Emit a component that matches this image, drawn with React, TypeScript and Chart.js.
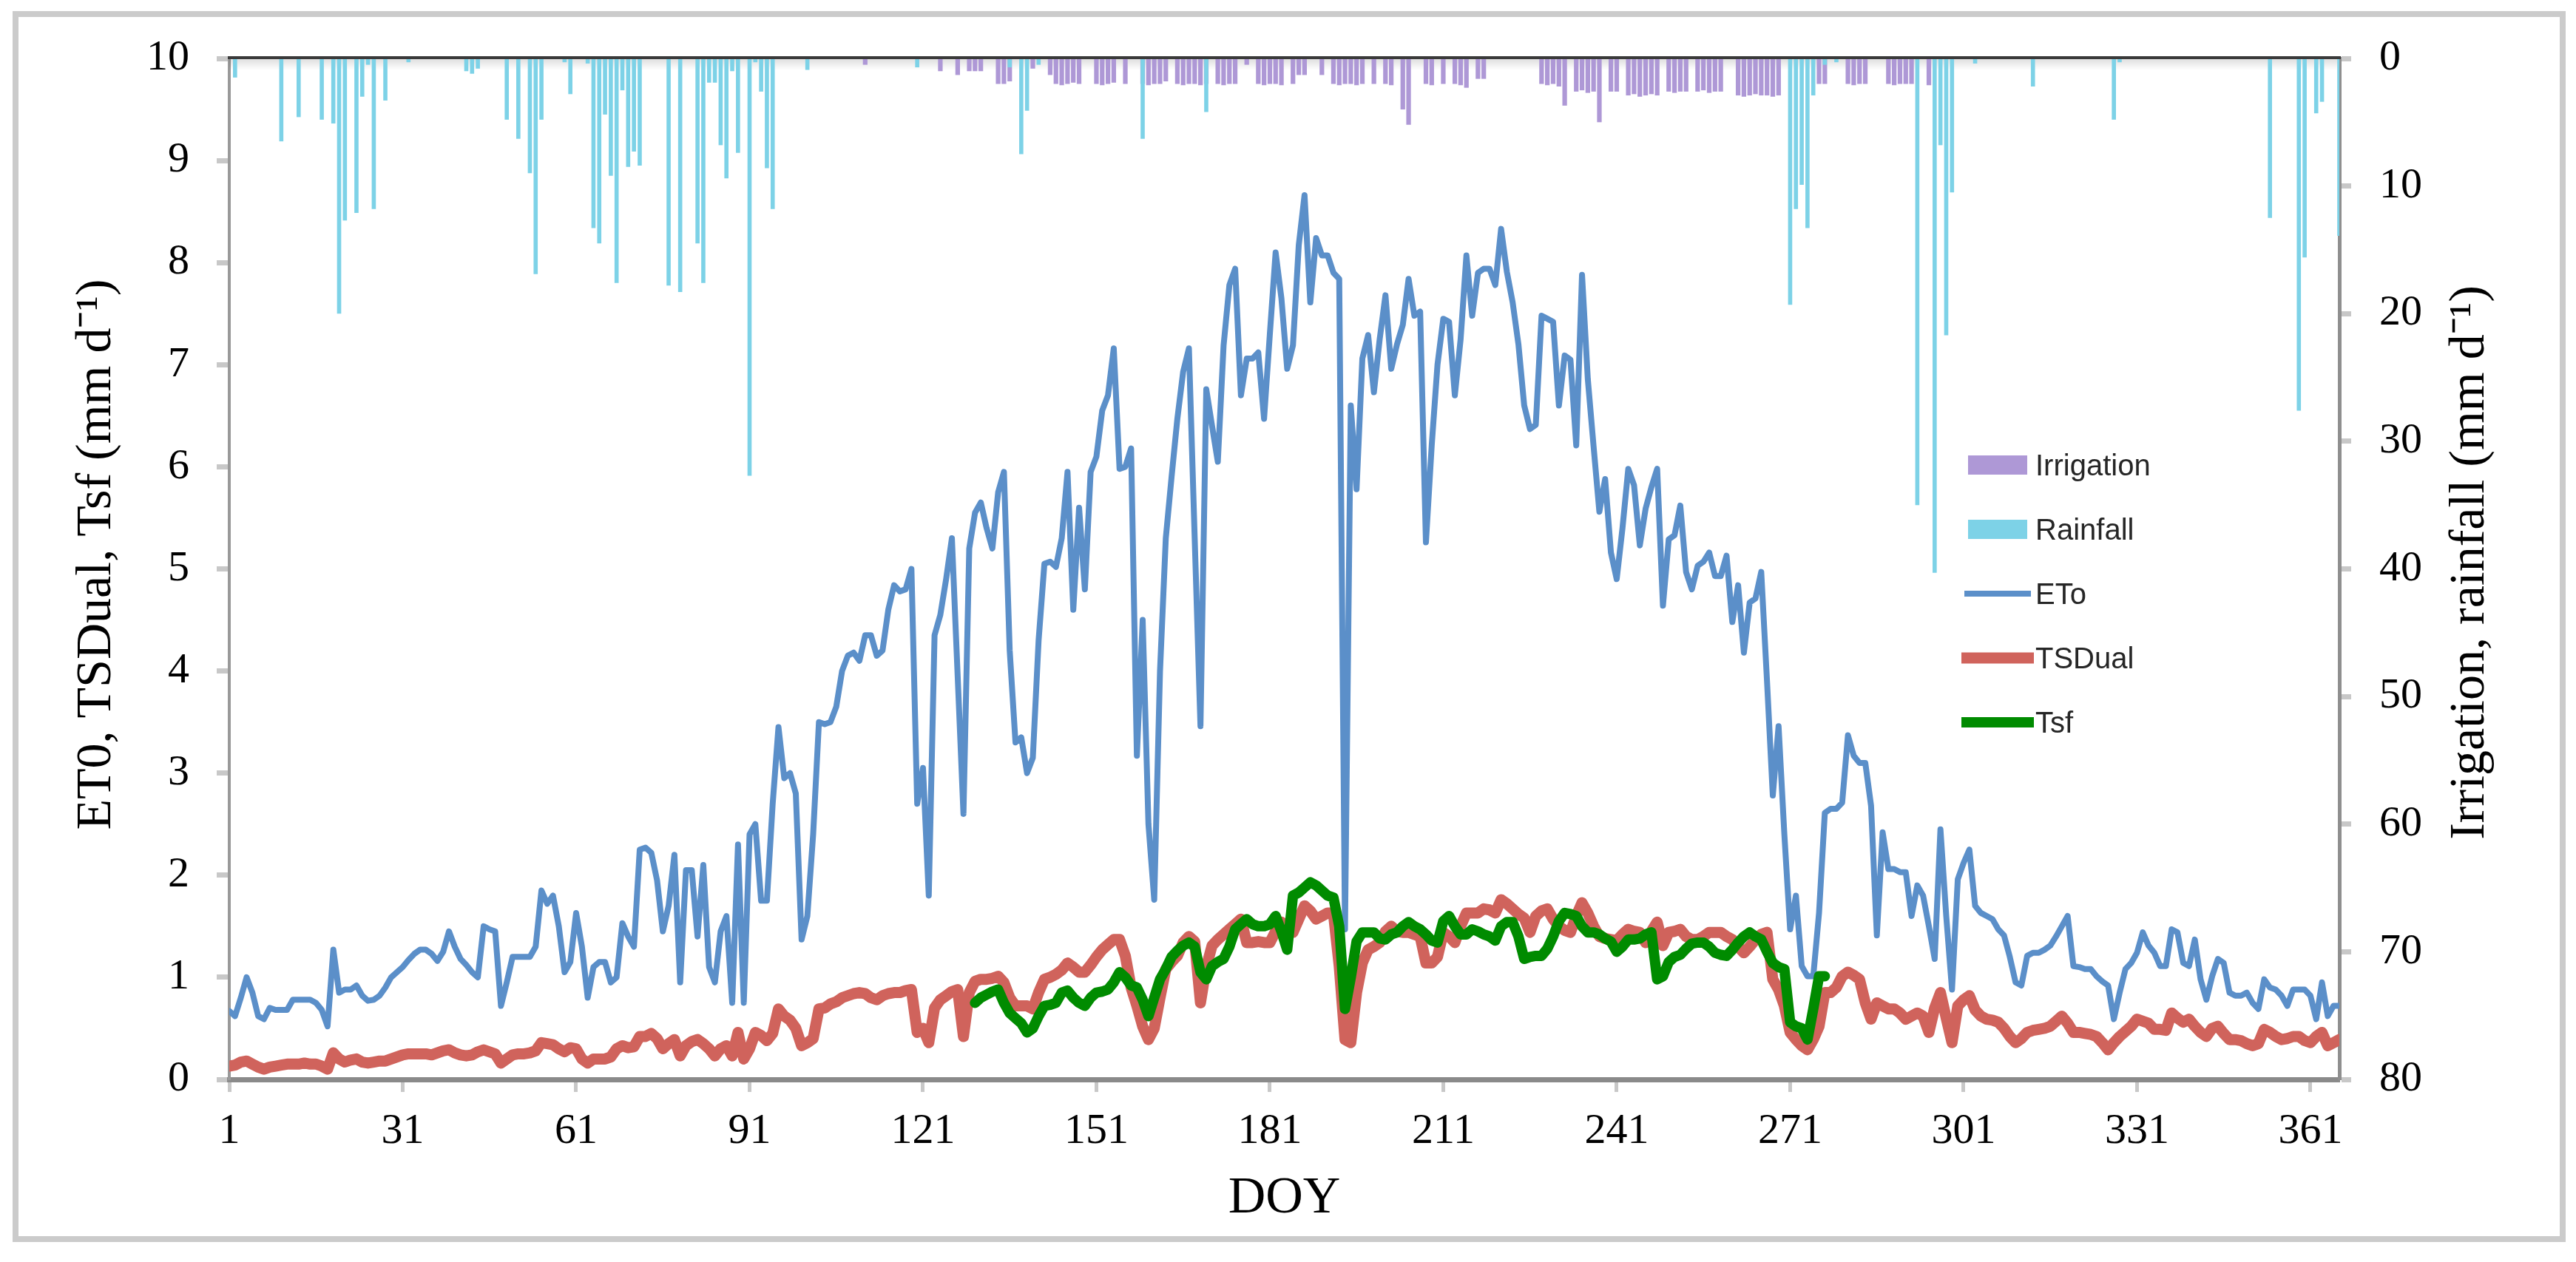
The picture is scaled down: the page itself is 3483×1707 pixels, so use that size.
import React, { useEffect, useRef } from "react";
import { Chart, registerables } from "chart.js";

Chart.register(...registerables);

// ---------------- DATA ----------------
const DOY_TICKS = [1, 31, 61, 91, 121, 151, 181, 211, 241, 271, 301, 331, 361];

// Reference evapotranspiration, DOY 1..366 (mm d-1)
const ETO = [
  0.67, 0.62, 0.8, 1.0, 0.85, 0.62, 0.59, 0.7, 0.68, 0.68,
  0.68, 0.78, 0.78, 0.78, 0.78, 0.75, 0.68, 0.52, 1.27, 0.85,
  0.88, 0.88, 0.92, 0.82, 0.77, 0.78, 0.82, 0.9, 1.0, 1.05,
  1.1, 1.17, 1.23, 1.27, 1.27, 1.23, 1.16, 1.25, 1.45, 1.3,
  1.18, 1.12, 1.05, 1.0, 1.5, 1.47, 1.45, 0.72, 0.95, 1.2,
  1.2, 1.2, 1.2, 1.3, 1.85, 1.72, 1.8, 1.5, 1.05, 1.15,
  1.63, 1.3, 0.8, 1.1, 1.15, 1.15, 0.95, 1.0, 1.53, 1.4,
  1.3, 2.25, 2.27, 2.22, 1.95, 1.45, 1.7, 2.2, 0.95, 2.05,
  2.05, 1.4, 2.1, 1.1, 0.95, 1.45, 1.6, 0.75, 2.3, 0.75,
  2.4, 2.5, 1.75, 1.75, 2.7, 3.45, 2.95, 3.0, 2.8, 1.37,
  1.6, 2.4, 3.5, 3.48, 3.5, 3.65, 4.0, 4.15, 4.18, 4.1,
  4.35, 4.35, 4.15, 4.2, 4.6, 4.84, 4.78, 4.8, 5.0, 2.7,
  3.05, 1.8, 4.35, 4.55, 4.9, 5.3, 3.95, 2.6, 5.2, 5.55,
  5.65, 5.4, 5.2, 5.75, 5.95, 4.2, 3.3, 3.35, 3.0, 3.15,
  4.3, 5.05, 5.07, 5.02, 5.3, 5.95, 4.6, 5.6, 4.8, 5.95,
  6.1, 6.55, 6.7, 7.16, 5.98, 6.0, 6.18, 3.17, 4.5, 2.5,
  1.76, 4.0, 5.3, 5.9, 6.47, 6.93, 7.16, 5.3, 3.46, 6.76,
  6.4, 6.05, 7.19, 7.78, 7.94, 6.7, 7.06, 7.06, 7.12, 6.47,
  7.3, 8.1, 7.65, 6.96, 7.19, 8.17, 8.66, 7.61, 8.24, 8.07,
  8.07, 7.9, 7.84, 1.47, 6.6, 5.78, 7.06, 7.29, 6.73, 7.25,
  7.68, 6.96, 7.2, 7.39, 7.84, 7.48, 7.52, 5.26, 6.21, 7.0,
  7.45, 7.42, 6.7, 7.25, 8.07, 7.48, 7.9, 7.94, 7.94, 7.78,
  8.33, 7.91, 7.61, 7.2, 6.6, 6.37, 6.41, 7.48, 7.45, 7.42,
  6.6, 7.09, 7.05, 6.21, 7.88, 6.86, 6.2, 5.56, 5.88, 5.16,
  4.9, 5.4, 5.98, 5.82, 5.23, 5.59, 5.8, 5.98, 4.64, 5.29,
  5.33, 5.62, 4.97, 4.8, 5.03, 5.07, 5.16, 4.93, 4.93, 5.13,
  4.48, 4.84, 4.18, 4.67, 4.71, 4.97, 3.9, 2.78, 3.46, 2.4,
  1.47, 1.8, 1.11, 1.01, 1.01, 1.63, 2.61, 2.65, 2.65, 2.71,
  3.37, 3.17, 3.1, 3.1, 2.68, 1.41, 2.42, 2.06, 2.06, 2.03,
  2.03, 1.6, 1.9, 1.8, 1.5, 1.18, 2.45, 1.6, 0.88, 1.96,
  2.12, 2.25, 1.7, 1.63, 1.6, 1.57, 1.47, 1.41, 1.2, 0.95,
  0.92, 1.21, 1.24, 1.24, 1.27, 1.31, 1.4, 1.5, 1.6, 1.11,
  1.1, 1.08, 1.08, 1.01, 0.96, 0.92, 0.59, 0.85, 1.08, 1.14,
  1.24, 1.44, 1.31, 1.24, 1.11, 1.11, 1.47, 1.44, 1.14, 1.11,
  1.37, 0.98, 0.78, 1.01, 1.18, 1.14, 0.85, 0.82, 0.82, 0.85,
  0.75, 0.69, 0.98, 0.9, 0.88, 0.82, 0.72, 0.88, 0.88, 0.88,
  0.82, 0.59, 0.95, 0.62, 0.72, 0.72,
];

// TSDual, DOY 1..366 (mm d-1)
const TSDUAL = [
  0.13, 0.14, 0.17, 0.18, 0.15, 0.12, 0.1, 0.12, 0.13, 0.14,
  0.15, 0.15, 0.15, 0.16, 0.15, 0.15, 0.13, 0.1, 0.26, 0.2,
  0.17, 0.19, 0.2, 0.17, 0.16, 0.17, 0.18, 0.18, 0.2, 0.22,
  0.24, 0.25, 0.25, 0.25, 0.25, 0.24, 0.26, 0.28, 0.29, 0.26,
  0.24, 0.23, 0.24, 0.27, 0.29, 0.27, 0.25, 0.16, 0.2, 0.24,
  0.25, 0.25, 0.26, 0.28, 0.36, 0.35, 0.34, 0.3, 0.27, 0.31,
  0.3, 0.2, 0.16, 0.2, 0.2, 0.2, 0.22, 0.3, 0.33, 0.31,
  0.32, 0.42, 0.42, 0.45, 0.4, 0.3, 0.35, 0.39, 0.23, 0.33,
  0.37, 0.39, 0.35, 0.3, 0.23, 0.3, 0.33, 0.23, 0.46, 0.2,
  0.3, 0.46, 0.43, 0.38, 0.45, 0.69, 0.62, 0.58, 0.5, 0.33,
  0.36, 0.4, 0.69, 0.7, 0.74, 0.76, 0.8, 0.82, 0.84, 0.85,
  0.84, 0.8, 0.78, 0.82, 0.84, 0.85, 0.85, 0.87, 0.88, 0.46,
  0.5, 0.36, 0.7, 0.78, 0.82, 0.86, 0.88, 0.42, 0.85, 0.96,
  0.98, 0.98, 0.99, 1.01, 0.95, 0.8, 0.72, 0.72, 0.72, 0.69,
  0.85, 0.98, 1.0, 1.03, 1.07, 1.14, 1.1, 1.05, 1.05, 1.12,
  1.2, 1.27, 1.32, 1.37, 1.37, 1.21, 0.9, 0.72, 0.52, 0.39,
  0.5, 0.8, 1.08, 1.15, 1.21, 1.34, 1.4, 1.35, 0.75, 1.1,
  1.31, 1.37, 1.42, 1.47, 1.52, 1.57, 1.34, 1.34, 1.35, 1.34,
  1.34, 1.45, 1.54, 1.48, 1.44, 1.57, 1.7, 1.65, 1.57, 1.6,
  1.63, 1.63, 1.11, 0.39, 0.36, 0.85, 1.14, 1.27, 1.3, 1.34,
  1.45, 1.5, 1.45, 1.44, 1.44, 1.42, 1.4, 1.14, 1.14, 1.2,
  1.44, 1.4, 1.34, 1.5, 1.63, 1.63, 1.63, 1.67, 1.66, 1.63,
  1.76, 1.72, 1.67, 1.62, 1.58, 1.44, 1.6, 1.65, 1.67, 1.57,
  1.5, 1.46, 1.44, 1.6, 1.73, 1.63, 1.5, 1.4, 1.38, 1.37,
  1.36, 1.42, 1.47, 1.45, 1.44, 1.34, 1.45, 1.54, 1.31, 1.44,
  1.45, 1.47, 1.4, 1.37, 1.37, 1.4, 1.44, 1.44, 1.44, 1.4,
  1.37, 1.3, 1.24, 1.3, 1.37, 1.42, 1.44, 0.98, 0.88, 0.72,
  0.46, 0.39, 0.33, 0.29, 0.39, 0.52, 0.85, 0.85, 0.9, 1.01,
  1.05, 1.02, 0.98, 0.75, 0.59, 0.75, 0.72, 0.69, 0.69, 0.65,
  0.59, 0.62, 0.65, 0.62, 0.46, 0.7, 0.85, 0.6, 0.36, 0.72,
  0.78, 0.82, 0.68, 0.62, 0.59, 0.58, 0.56, 0.5, 0.42, 0.36,
  0.4, 0.46, 0.48, 0.49, 0.5, 0.52, 0.57, 0.62, 0.55, 0.46,
  0.46, 0.45, 0.44, 0.42, 0.36, 0.29, 0.36, 0.42, 0.47, 0.52,
  0.59, 0.57, 0.55, 0.49, 0.49, 0.48, 0.65, 0.6, 0.56, 0.59,
  0.52, 0.46, 0.42, 0.5, 0.52, 0.45, 0.39, 0.39, 0.38, 0.35,
  0.33, 0.35, 0.49, 0.46, 0.42, 0.39, 0.4, 0.42, 0.42, 0.38,
  0.36, 0.42, 0.46, 0.33, 0.36, 0.39,
];

// Tsf, DOY 130..277 (mm d-1)
const TSF_START = 130;
const TSF = [
  0.75, 0.8, 0.83, 0.86, 0.88, 0.75, 0.65, 0.6, 0.55, 0.46,
  0.5, 0.62, 0.72, 0.73, 0.75, 0.85, 0.87, 0.8, 0.75, 0.72,
  0.8, 0.85, 0.86, 0.88, 0.95, 1.05, 1.0, 0.92, 0.9, 0.78,
  0.62, 0.8, 0.98, 1.08, 1.2, 1.26, 1.31, 1.34, 1.3, 1.05,
  0.98, 1.11, 1.15, 1.18, 1.3, 1.47, 1.52, 1.57, 1.52, 1.5,
  1.5, 1.52, 1.6, 1.45, 1.27, 1.8, 1.83, 1.88, 1.93, 1.9,
  1.85, 1.8, 1.78, 1.5, 0.69, 1.0, 1.35, 1.44, 1.44, 1.44,
  1.38, 1.37, 1.42, 1.44, 1.5, 1.54, 1.5, 1.47, 1.42, 1.36,
  1.34, 1.55, 1.6, 1.5, 1.42, 1.42, 1.47, 1.45, 1.42, 1.4,
  1.36, 1.5, 1.54, 1.54, 1.4, 1.18, 1.2, 1.21, 1.21, 1.28,
  1.4, 1.55, 1.63, 1.62, 1.6, 1.5, 1.44, 1.44, 1.42, 1.38,
  1.35, 1.25, 1.3, 1.37, 1.37, 1.38, 1.42, 1.44, 0.98, 1.01,
  1.15, 1.2, 1.22, 1.28, 1.33, 1.34, 1.34, 1.3, 1.24, 1.22,
  1.21, 1.27, 1.34, 1.4, 1.44, 1.4, 1.37, 1.25, 1.14, 1.1,
  1.08, 0.56, 0.52, 0.5, 0.39, 0.69, 1.01, 1.01,
];

// Rainfall events (DOY, mm)
const RAIN_DAYS = [
  2, 10, 13, 17, 19, 20, 21, 23, 24, 25, 26, 28, 32, 42, 43, 44, 49, 51, 53, 54,
  55, 59, 60, 63, 64, 65, 66, 67, 68, 69, 70, 71, 72, 77, 79, 82, 83, 84, 85, 86,
  87, 88, 89, 91, 92, 93, 94, 95, 101, 120, 136, 138, 139, 141, 159, 170, 271, 272, 273, 274,
  275, 277, 279, 293, 296, 297, 298, 299, 303, 313, 327, 328, 354, 359, 360, 362, 363, 366,
];
const RAIN_MM = [
  1.5, 6.5, 4.6, 4.8, 5.1, 20, 12.7, 12.1, 3, 0.5, 11.8, 3.3, 0.3, 1, 1.2, 0.8, 4.8, 6.3, 9, 16.9,
  4.8, 0.3, 2.8, 0.4, 13.3, 14.5, 4.4, 9.2, 17.6, 2.5, 8.5, 7.3, 8.4, 17.8, 18.3, 14.5, 17.6, 1.9, 1.9, 6.8,
  9.4, 1, 7.4, 32.7, 0.3, 2.6, 8.6, 11.8, 0.9, 0.7, 0.7, 7.5, 4.1, 0.5, 6.3, 4.2, 19.3, 11.8, 9.9, 13.3,
  2.9, 0.5, 0.3, 35, 40.3, 6.8, 21.7, 10.5, 0.4, 2.2, 4.8, 0.3, 12.5, 27.6, 15.6, 4.3, 3.4, 13.9,
];

// Irrigation events (DOY, mm)
const IRR_DAYS = [
  111, 124, 127, 129, 130, 131, 134, 135, 136, 140, 143, 144, 145, 146, 147, 148, 151, 152, 153, 154,
  156, 159, 160, 161, 162, 163, 165, 166, 167, 168, 169, 170, 172, 173, 174, 175, 177, 179, 180, 181,
  182, 183, 185, 186, 187, 190, 192, 193, 194, 195, 196, 197, 199, 201, 202, 204, 205, 208, 209, 211,
  213, 214, 215, 217, 218, 228, 229, 230, 231, 232, 234, 235, 236, 237, 238, 240, 241, 243, 244, 245,
  246, 247, 248, 250, 251, 252, 253, 255, 256, 257, 258, 259, 262, 263, 264, 265, 266, 267, 268, 269,
  276, 277, 281, 282, 283, 284, 288, 289, 290, 291, 292, 295,
];
const IRR_MM = [
  0.5, 1.0, 1.3, 1.0, 1.0, 1.0, 2.0, 2.0, 1.8, 0.8, 1.3, 2.0, 2.1, 2.0, 1.9, 2.0, 2.0, 2.1, 2.0, 1.9,
  2.0, 2.0, 2.1, 2.0, 2.0, 1.8, 2.0, 2.1, 2.0, 2.0, 2.1, 2.0, 2.0, 2.1, 2.0, 2.0, 0.5, 2.0, 2.1, 2.0,
  2.0, 2.1, 2.0, 1.3, 1.3, 1.3, 2.0, 2.1, 2.0, 2.0, 2.1, 2.0, 2.0, 2.0, 2.1, 4.0, 5.2, 2.0, 2.1, 2.0,
  2.0, 2.1, 2.3, 1.6, 1.6, 2.0, 2.1, 2.0, 2.2, 3.7, 2.6, 2.5, 2.7, 2.6, 5.0, 2.6, 2.6, 2.9, 2.8, 3.0,
  2.9, 2.8, 2.9, 2.6, 2.7, 2.6, 2.6, 2.6, 2.5, 2.7, 2.6, 2.6, 2.9, 3.0, 2.9, 2.8, 2.9, 2.9, 3.0, 2.9,
  2.0, 2.0, 2.0, 2.1, 2.0, 2.0, 2.0, 2.1, 2.0, 2.0, 2.0, 2.1,
];

// ---------------- LAYOUT / STYLE ----------------
const W = 3483;
const H = 1707;
const PLOT_LEFT = 310;
const PLOT_RIGHT = 3163;
const PLOT_TOP = 79;
const PLOT_BOTTOM = 1460;

const SERIF = "'Liberation Serif', 'Times New Roman', serif";
const SANS = "'Liberation Sans', Arial, sans-serif";

const C_ETO = "#5B8FC9";
const C_TSD = "#D0635C";
const C_TSF = "#008B00";
const C_RAIN = "#7DD2E7";
const C_IRR = "#AE98D6";

const LEFT_TITLE = "ET0, TSDual, Tsf (mm d\u207B\u00B9)";
const RIGHT_TITLE = "Irrigation, rainfall (mm d\u207B\u00B9)";

function drawVerticalTitle(ctx: any, text: string, x: number, y: number) {
  ctx.save();
  ctx.translate(x, y);
  ctx.rotate(-Math.PI / 2);
  ctx.font = `68px ${SERIF}`;
  ctx.fillStyle = "#000";
  ctx.textAlign = "center";
  ctx.textBaseline = "alphabetic";
  ctx.fillText(text, 0, 0);
  ctx.restore();
}

const decorPlugin = {
  id: "decor",
  beforeDatasetsDraw(chart: any) {
    const { ctx, chartArea: a } = chart;
    ctx.save();
    const g = ctx.createLinearGradient(0, a.top, 0, a.top + 16);
    g.addColorStop(0, "rgba(0,0,0,0.13)");
    g.addColorStop(1, "rgba(0,0,0,0)");
    ctx.fillStyle = g;
    ctx.fillRect(a.left, a.top, a.right - a.left, 16);
    ctx.restore();
  },
  afterDatasetsDraw(chart: any) {
    const { ctx, chartArea: a } = chart;
    ctx.save();
    ctx.fillStyle = "#3a3a3a";
    ctx.fillRect(a.left - 2, a.top - 3, a.right - a.left + 4, 4);
    ctx.restore();
  },
  afterDraw(chart: any) {
    const { ctx } = chart;
    // axis titles (both read bottom to top)
    drawVerticalTitle(ctx, LEFT_TITLE, 149, 750);
    drawVerticalTitle(ctx, RIGHT_TITLE, 3358, 761);

    // legend
    const order = ["Irrigation", "Rainfall", "ETo", "TSDual", "Tsf"];
    const startY = 629;
    const step = 87;
    ctx.save();
    ctx.font = `40px ${SANS}`;
    ctx.textAlign = "left";
    ctx.textBaseline = "middle";
    order.forEach((label, i) => {
      const ds = chart.data.datasets.find((d: any) => d.label === label);
      if (!ds) return;
      const y = startY + i * step;
      if (ds.type === "bar") {
        ctx.fillStyle = ds.backgroundColor;
        ctx.fillRect(2661, y - 13, 80, 26);
      } else {
        ctx.strokeStyle = ds.borderColor;
        ctx.lineWidth = ds.borderWidth;
        ctx.lineCap = "butt";
        const x0 = ds.borderWidth > 10 ? 2652 : 2656;
        const x1 = ds.borderWidth > 10 ? 2750 : 2746;
        ctx.beginPath();
        ctx.moveTo(x0, y);
        ctx.lineTo(x1, y);
        ctx.stroke();
      }
      ctx.fillStyle = "#262626";
      ctx.fillText(label, 2752, y + 3);
    });
    ctx.restore();
  },
};

function buildConfig(): any {
  const days = ETO.map((_, i) => i + 1);
  return {
    type: "bar",
    data: {
      datasets: [
        {
          type: "line",
          label: "Tsf",
          data: TSF.map((v, i) => ({ x: TSF_START + i, y: v })),
          borderColor: C_TSF,
          backgroundColor: C_TSF,
          borderWidth: 14,
          pointRadius: 0,
          tension: 0,
          borderJoinStyle: "round",
          borderCapStyle: "round",
          yAxisID: "y",
          order: 1,
        },
        {
          type: "line",
          label: "TSDual",
          data: TSDUAL.map((v, i) => ({ x: days[i], y: v })),
          borderColor: C_TSD,
          backgroundColor: C_TSD,
          borderWidth: 15,
          pointRadius: 0,
          tension: 0,
          borderJoinStyle: "round",
          borderCapStyle: "round",
          yAxisID: "y",
          order: 2,
        },
        {
          type: "line",
          label: "ETo",
          data: ETO.map((v, i) => ({ x: days[i], y: v })),
          borderColor: C_ETO,
          backgroundColor: C_ETO,
          borderWidth: 8,
          pointRadius: 0,
          tension: 0,
          borderJoinStyle: "round",
          borderCapStyle: "round",
          yAxisID: "y",
          order: 3,
        },
        {
          type: "bar",
          label: "Rainfall",
          data: RAIN_DAYS.map((d, i) => ({ x: d, y: RAIN_MM[i] })),
          backgroundColor: C_RAIN,
          borderWidth: 0,
          grouped: false,
          barPercentage: 0.72,
          categoryPercentage: 1,
          yAxisID: "y2",
          order: 4,
        },
        {
          type: "bar",
          label: "Irrigation",
          data: IRR_DAYS.map((d, i) => ({ x: d, y: IRR_MM[i] })),
          backgroundColor: C_IRR,
          borderWidth: 0,
          grouped: false,
          barPercentage: 0.8,
          categoryPercentage: 1,
          yAxisID: "y2",
          order: 5,
        },
      ],
    },
    options: {
      animation: false,
      responsive: false,
      maintainAspectRatio: false,
      devicePixelRatio: 1,
      layout: { padding: { top: PLOT_TOP, left: 0, right: 0, bottom: 0 } },
      plugins: {
        legend: { display: false },
        title: { display: false },
        tooltip: { enabled: false },
      },
      scales: {
        x: {
          type: "linear",
          position: "bottom",
          min: 1,
          max: 366,
          offset: false,
          afterBuildTicks: (s: any) => {
            s.ticks = DOY_TICKS.map((v) => ({ value: v }));
          },
          afterFit: (s: any) => {
            s.height = H - PLOT_BOTTOM;
          },
          grid: {
            offset: false,
            drawOnChartArea: false,
            drawTicks: true,
            tickLength: 17,
            tickColor: "#c8c8c8",
            tickWidth: 5,
          },
          border: { display: true, color: "#8a8a8a", width: 7 },
          ticks: {
            autoSkip: false,
            maxRotation: 0,
            minRotation: 0,
            padding: 19,
            color: "#000",
            font: { family: SERIF, size: 58 },
          },
          title: {
            display: true,
            text: "DOY",
            color: "#000",
            font: { family: SERIF, size: 70 },
            padding: { top: 0, bottom: 43 },
          },
        },
        y: {
          type: "linear",
          position: "left",
          min: 0,
          max: 10,
          afterFit: (s: any) => {
            s.width = PLOT_LEFT;
          },
          grid: {
            drawOnChartArea: false,
            drawTicks: true,
            tickLength: 17,
            tickColor: "#c8c8c8",
            tickWidth: 7,
          },
          border: { display: true, color: "#999999", width: 4 },
          ticks: {
            stepSize: 1,
            padding: 37,
            color: "#000",
            font: { family: SERIF, size: 58 },
          },
          title: { display: false },
        },
        y2: {
          type: "linear",
          position: "right",
          reverse: true,
          min: 0,
          max: 80,
          afterFit: (s: any) => {
            s.width = W - PLOT_RIGHT;
          },
          grid: {
            drawOnChartArea: false,
            drawTicks: true,
            tickLength: 16,
            tickColor: "#c8c8c8",
            tickWidth: 7,
          },
          border: { display: true, color: "#8f8f8f", width: 5 },
          ticks: {
            stepSize: 10,
            padding: 38,
            color: "#000",
            font: { family: SERIF, size: 58 },
          },
          title: { display: false },
        },
      },
    },
    plugins: [decorPlugin],
  };
}

export default function App() {
  const ref = useRef<HTMLCanvasElement>(null);
  useEffect(() => {
    const canvas = ref.current;
    if (!canvas) return;
    const chart = new Chart(canvas, buildConfig());
    return () => chart.destroy();
  }, []);
  return (
    <div
      style={{
        position: "fixed",
        left: 0,
        top: 0,
        width: W,
        height: H,
        background: "#ffffff",
        overflow: "hidden",
      }}
    >
      <div
        style={{
          position: "absolute",
          left: 17,
          top: 15,
          width: 3452,
          height: 1665,
          border: "8px solid #cbcbcb",
          boxSizing: "border-box",
        }}
      />
      <canvas
        ref={ref}
        width={W}
        height={H}
        style={{ position: "absolute", left: 0, top: 0, width: W, height: H }}
      />
    </div>
  );
}
